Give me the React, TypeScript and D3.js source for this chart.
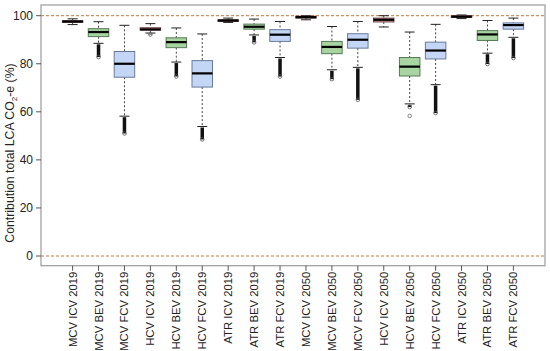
import React from "react";
import * as d3 from "d3";

const categories = [
  "MCV ICV 2019", "MCV BEV 2019", "MCV FCV 2019",
  "HCV ICV 2019", "HCV BEV 2019", "HCV FCV 2019",
  "ATR ICV 2019", "ATR BEV 2019", "ATR FCV 2019",
  "MCV ICV 2050", "MCV BEV 2050", "MCV FCV 2050",
  "HCV ICV 2050", "HCV BEV 2050", "HCV FCV 2050",
  "ATR ICV 2050", "ATR BEV 2050", "ATR FCV 2050",
];
const whiskerHigh = [98.7, 97.5, 96.0, 96.7, 94.9, 92.4, 99.0, 98.6, 97.6, 100.0, 95.5, 97.6, 100.0, 93.2, 96.4, 100.3, 98.0, 99.0];
const q3 = [97.9, 94.6, 85.1, 95.0, 90.8, 81.3, 98.3, 96.5, 94.2, 99.8, 89.3, 92.5, 99.0, 82.6, 89.0, 100.0, 93.8, 97.0];
const median = [97.6, 93.2, 80.0, 94.3, 89.0, 76.0, 98.0, 95.4, 92.1, 99.4, 87.0, 90.0, 98.3, 78.8, 85.5, 99.6, 92.2, 96.1];
const q1 = [97.2, 91.3, 74.4, 94.0, 86.7, 70.3, 97.6, 94.4, 89.3, 99.0, 84.2, 86.5, 97.4, 74.9, 82.0, 99.3, 89.7, 94.4];
const whiskerLow = [96.3, 88.5, 58.2, 92.8, 80.7, 53.9, 97.2, 92.0, 82.6, 98.3, 77.5, 78.5, 95.3, 63.3, 71.3, 98.8, 84.4, 91.0];
const outlierLow = [null, 82.8, 51.0, 92.2, 74.7, 48.5, null, 88.9, 74.7, null, 73.6, 65.0, null, 62.0, 59.5, null, 79.9, 82.4];
const outlierExtreme = [null, null, null, null, null, null, null, null, null, null, null, null, null, 58.3, null, null, null, null];
const groups = ["ICV", "BEV", "FCV", "ICV", "BEV", "FCV", "ICV", "BEV", "FCV", "ICV", "BEV", "FCV", "ICV", "BEV", "FCV", "ICV", "BEV", "FCV"];
const yTicks = [0, 20, 40, 60, 80, 100];
const refLines = [0, 100];

const fills: Record<string, string> = { ICV: "#e9a2a0", BEV: "#a8d4a2", FCV: "#c4d6f6" };
const strokes: Record<string, string> = { ICV: "#6a4a4a", BEV: "#557a55", FCV: "#6a7a9a" };

export default function App() {
  const W = 550, H = 351;
  const left = 41, right = 545, top = 5, bottom = 265.7;
  const x = d3.scalePoint<string>().domain(categories).range([72.6, 513.4]);
  const y = d3.scaleLinear().domain([0, 100]).range([256, 15.7]);
  const boxW = 20.5;
  const capW = 10;
  const font = "'Liberation Sans', Arial, sans-serif";

  return (
    <svg width={W} height={H} style={{ position: "absolute", left: 0, top: 0, background: "#fff" }} fontFamily={font}>
      <rect x={0} y={0} width={W} height={H} fill="#fff" />
      {refLines.map((v) => (
        <line key={v} x1={left} x2={right} y1={y(v)} y2={y(v)} stroke="#c8773a" strokeWidth={1} strokeDasharray="3,2" />
      ))}
      {categories.map((c, i) => {
        const cx = x(c)!;
        const g = groups[i];
        const ol = outlierLow[i];
        const oe = outlierExtreme[i];
        return (
          <g key={c}>
            <line x1={cx} x2={cx} y1={y(whiskerHigh[i])} y2={y(q3[i])} stroke="#444" strokeWidth={1} strokeDasharray="2,2" />
            <line x1={cx} x2={cx} y1={y(q1[i])} y2={y(whiskerLow[i])} stroke="#444" strokeWidth={1} strokeDasharray="2,2" />
            <line x1={cx - capW / 2} x2={cx + capW / 2} y1={y(whiskerHigh[i])} y2={y(whiskerHigh[i])} stroke="#222" strokeWidth={1} />
            <line x1={cx - capW / 2} x2={cx + capW / 2} y1={y(whiskerLow[i])} y2={y(whiskerLow[i])} stroke="#222" strokeWidth={1} />
            {ol !== null && (
              <>
                <line x1={cx} x2={cx} y1={y(whiskerLow[i]) + 1} y2={y(ol as number)} stroke="#111" strokeWidth={3.5} />
                <circle cx={cx} cy={y(ol as number)} r={1.8} fill="none" stroke="#555" strokeWidth={0.8} />
              </>
            )}
            {oe !== null && <circle cx={cx} cy={y(oe as number)} r={1.8} fill="none" stroke="#666" strokeWidth={0.8} />}
            <rect x={cx - boxW / 2} y={y(q3[i])} width={boxW} height={Math.max(1, y(q1[i]) - y(q3[i]))} fill={fills[g]} stroke={strokes[g]} strokeWidth={1} />
            <line x1={cx - boxW / 2} x2={cx + boxW / 2} y1={y(median[i])} y2={y(median[i])} stroke="#000" strokeWidth={2.2} />
          </g>
        );
      })}
      <rect x={left} y={top} width={right - left} height={bottom - top} fill="none" stroke="#9a9a9a" strokeWidth={1.2} />
      {yTicks.map((t) => (
        <g key={t}>
          <line x1={left - 5} x2={left} y1={y(t)} y2={y(t)} stroke="#555" />
          <text x={left - 8} y={y(t)} dy="0.35em" textAnchor="end" fontSize={12} fill="#222">{t}</text>
        </g>
      ))}
      {categories.map((c) => (
        <g key={c}>
          <line x1={x(c)!} x2={x(c)!} y1={bottom} y2={bottom + 5} stroke="#555" />
          <text transform={`translate(${x(c)! + 4},${bottom + 6}) rotate(-90)`} textAnchor="end" fontSize={11.3} fill="#222">{c}</text>
        </g>
      ))}
      <text transform={`translate(14,153) rotate(-90)`} textAnchor="middle" fontSize={12.3} fill="#222">
        Contribution total LCA CO<tspan fontSize={8} dy={3}>2</tspan><tspan dy={-3}>-e (%)</tspan>
      </text>
    </svg>
  );
}
